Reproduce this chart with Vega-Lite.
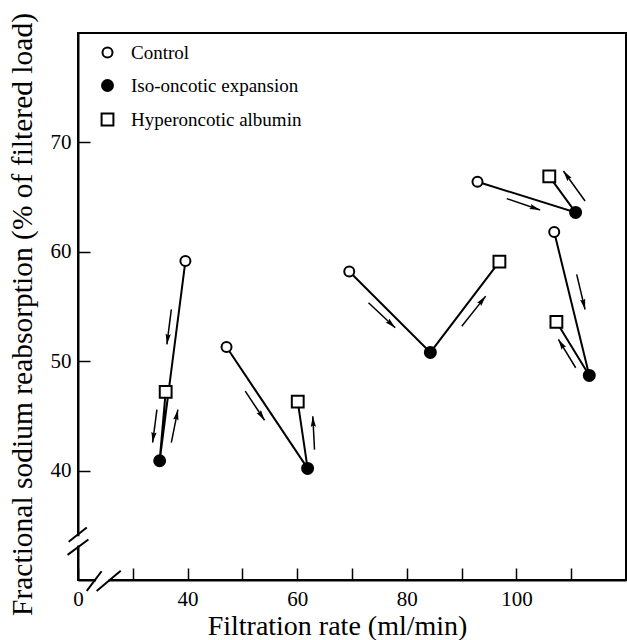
{
  "$schema": "https://vega.github.io/schema/vega-lite/v6.json",
  "width": 548,
  "height": 547,
  "autosize": {"type": "none"},
  "padding": {"left": 78, "top": 33, "right": 1, "bottom": 60},
  "background": "white",
  "config": {
    "font": "Liberation Serif",
    "view": {"stroke": "black", "strokeWidth": 2},
    "axis": {"grid": false, "domainColor": "black", "domainWidth": 2, "tickColor": "black", "tickWidth": 1.5, "labelColor": "black", "titleColor": "black", "titleFontWeight": "normal", "labelFont": "Liberation Serif", "titleFont": "Liberation Serif"},
    "legend": {"orient": "none", "legendX": 20, "legendY": 10, "labelFont": "Liberation Serif", "labelFontSize": 19, "labelColor": "black", "labelLimit": 400, "symbolStrokeWidth": 2, "rowPadding": 13, "labelOffset": 14, "padding": 0}
  },
  "datasets": {
    "points": [
      {"group": 1, "phase": 1, "condition": "Control", "rate": 39.6, "reabs": 59.15},
      {"group": 1, "phase": 2, "condition": "Iso-oncotic expansion", "rate": 34.9, "reabs": 40.9},
      {"group": 1, "phase": 3, "condition": "Hyperoncotic albumin", "rate": 36.0, "reabs": 47.2},
      {"group": 2, "phase": 1, "condition": "Control", "rate": 47.1, "reabs": 51.3},
      {"group": 2, "phase": 2, "condition": "Iso-oncotic expansion", "rate": 61.9, "reabs": 40.2},
      {"group": 2, "phase": 3, "condition": "Hyperoncotic albumin", "rate": 60.1, "reabs": 46.3},
      {"group": 3, "phase": 1, "condition": "Control", "rate": 69.5, "reabs": 58.2},
      {"group": 3, "phase": 2, "condition": "Iso-oncotic expansion", "rate": 84.3, "reabs": 50.8},
      {"group": 3, "phase": 3, "condition": "Hyperoncotic albumin", "rate": 96.9, "reabs": 59.1},
      {"group": 4, "phase": 1, "condition": "Control", "rate": 106.9, "reabs": 61.8},
      {"group": 4, "phase": 2, "condition": "Iso-oncotic expansion", "rate": 113.3, "reabs": 48.7},
      {"group": 4, "phase": 3, "condition": "Hyperoncotic albumin", "rate": 107.3, "reabs": 53.6},
      {"group": 5, "phase": 1, "condition": "Control", "rate": 92.9, "reabs": 66.4},
      {"group": 5, "phase": 2, "condition": "Iso-oncotic expansion", "rate": 110.8, "reabs": 63.6},
      {"group": 5, "phase": 3, "condition": "Hyperoncotic albumin", "rate": 106.0, "reabs": 66.9}
    ],
    "arrows": [
      {"x": 37.03, "y": 54.73, "x2": 36.22, "y2": 51.53},
      {"x": 34.40, "y": 45.58, "x2": 33.62, "y2": 42.56},
      {"x": 37.03, "y": 42.56, "x2": 38.23, "y2": 45.58},
      {"x": 50.52, "y": 47.26, "x2": 54.04, "y2": 44.60},
      {"x": 63.16, "y": 41.92, "x2": 62.85, "y2": 44.97},
      {"x": 73.01, "y": 55.34, "x2": 77.88, "y2": 53.06},
      {"x": 90.03, "y": 53.20, "x2": 94.40, "y2": 55.95},
      {"x": 111.00, "y": 57.93, "x2": 112.53, "y2": 54.73},
      {"x": 110.82, "y": 49.40, "x2": 107.66, "y2": 51.99},
      {"x": 98.23, "y": 64.86, "x2": 104.33, "y2": 63.82},
      {"x": 112.53, "y": 64.64, "x2": 108.58, "y2": 67.38}
    ],
    "gaps": [
      {"x": 20, "y": 33.15, "x2": 20, "y2": 34.0},
      {"x": 23.3, "y": 30, "x2": 25.6, "y2": 30}
    ],
    "breaks": [
      {"x": 18.3, "y": 33.5, "x2": 21.6, "y2": 34.8},
      {"x": 18.1, "y": 32.3, "x2": 21.9, "y2": 33.7},
      {"x": 21.6, "y": 29.0, "x2": 24.3, "y2": 30.8},
      {"x": 23.4, "y": 29.0, "x2": 27.8, "y2": 30.85}
    ]
  },
  "layer": [
    {
      "data": {"name": "points"},
      "mark": {"type": "line", "color": "black", "strokeWidth": 2},
      "encoding": {
        "x": {"field": "rate", "type": "quantitative", "scale": {"domain": [20, 120], "nice": false, "zero": false},
          "axis": {"values": [20, 30, 40, 50, 60, 70, 80, 90, 100, 110],
            "labelExpr": "datum.value == 20 ? '0' : (datum.value % 20 == 0 ? datum.label : '')",
            "tickSize": -12, "labelPadding": 20, "labelFontSize": 21, "labelFlush": false, "labelBound": false, "labelOverlap": false,
            "title": "Filtration rate (ml/min)", "titleFontSize": 28, "titleX": 259, "titleY": 54, "titleAlign": "center", "titleBaseline": "alphabetic"}},
        "y": {"field": "reabs", "type": "quantitative", "scale": {"domain": [30, 80], "nice": false, "zero": false},
          "axis": {"values": [40, 50, 60, 70], "tickSize": -12, "labelPadding": 19, "labelFontSize": 21,
            "title": "Fractional sodium reabsorption (% of filtered load)", "titleFontSize": 29.5, "titleAngle": -90,
            "titleX": -56, "titleY": 281, "titleAlign": "center", "titleBaseline": "middle"}},
        "detail": {"field": "group"},
        "order": {"field": "phase", "type": "quantitative"}
      }
    },
    {
      "data": {"name": "arrows"},
      "mark": {"type": "rule", "color": "black", "strokeWidth": 1.5},
      "encoding": {
        "x": {"field": "x", "type": "quantitative"},
        "y": {"field": "y", "type": "quantitative"},
        "x2": {"field": "x2"},
        "y2": {"field": "y2"}
      }
    },
    {
      "data": {"name": "arrows"},
      "transform": [{"calculate": "atan2((datum.x2 - datum.x) * 5.48, (datum.y2 - datum.y) * 10.94) * 180 / PI", "as": "ang"}],
      "mark": {"type": "point", "shape": "M0,0L-0.25,1L0,0.85L0.25,1Z", "filled": true, "color": "black", "size": 450, "opacity": 1},
      "encoding": {
        "x": {"field": "x2", "type": "quantitative"},
        "y": {"field": "y2", "type": "quantitative"},
        "angle": {"field": "ang", "type": "quantitative", "scale": null}
      }
    },
    {
      "data": {"name": "gaps"},
      "mark": {"type": "rule", "color": "white", "strokeWidth": 4},
      "encoding": {
        "x": {"field": "x", "type": "quantitative"},
        "y": {"field": "y", "type": "quantitative"},
        "x2": {"field": "x2"},
        "y2": {"field": "y2"}
      }
    },
    {
      "data": {"name": "breaks"},
      "mark": {"type": "rule", "color": "black", "strokeWidth": 2},
      "encoding": {
        "x": {"field": "x", "type": "quantitative"},
        "y": {"field": "y", "type": "quantitative"},
        "x2": {"field": "x2"},
        "y2": {"field": "y2"}
      }
    },
    {
      "data": {"name": "points"},
      "mark": {"type": "point", "filled": true, "strokeWidth": 2, "opacity": 1},
      "encoding": {
        "x": {"field": "rate", "type": "quantitative"},
        "y": {"field": "reabs", "type": "quantitative"},
        "stroke": {"field": "condition", "type": "nominal",
          "scale": {"domain": ["Control", "Iso-oncotic expansion", "Hyperoncotic albumin"], "range": ["black", "black", "black"]},
          "legend": {"title": null}},
        "shape": {"field": "condition", "type": "nominal",
          "scale": {"domain": ["Control", "Iso-oncotic expansion", "Hyperoncotic albumin"], "range": ["circle", "circle", "square"]},
          "legend": {"title": null}},
        "fill": {"field": "condition", "type": "nominal",
          "scale": {"domain": ["Control", "Iso-oncotic expansion", "Hyperoncotic albumin"], "range": ["white", "black", "white"]},
          "legend": {"title": null}},
        "size": {"field": "condition", "type": "nominal",
          "scale": {"domain": ["Control", "Iso-oncotic expansion", "Hyperoncotic albumin"], "range": [100, 140, 120]},
          "legend": {"title": null}}
      }
    }
  ]
}
